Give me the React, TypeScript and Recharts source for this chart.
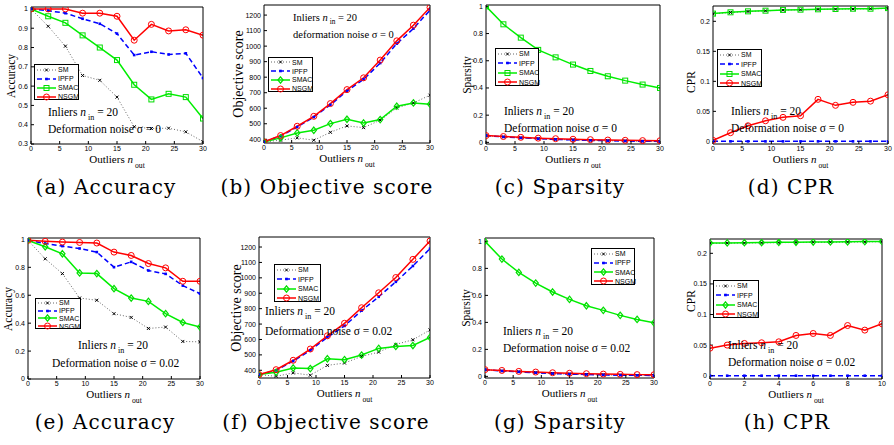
import React from 'react';
import { LineChart, Line, XAxis, YAxis } from 'recharts';

// x values
const nOut = [0, 3, 6, 9, 12, 15, 18, 21, 24, 27, 30];
const nOutShort = [0, 1, 2, 3, 4, 5, 6, 7, 8, 9, 10];

// tick labels
const ticks30 = [0, 5, 10, 15, 20, 25, 30];
const ticks10 = [0, 2, 4, 6, 8, 10];
const accTicksA = [0.3, 0.4, 0.5, 0.6, 0.7, 0.8, 0.9, 1];
const unitTicks = [0, 0.2, 0.4, 0.6, 0.8, 1];
const objTicks = [400, 500, 600, 700, 800, 900, 1000, 1100, 1200];
const cprTicks = [0, 0.05, 0.1, 0.15, 0.2];

const methods = ['SM', 'IPFP', 'SMAC', 'NSGM'];

// (a) accuracy, sigma = 0
const accA_SM = [1.0, 0.91, 0.807, 0.655, 0.63, 0.543, 0.389, 0.38, 0.382, 0.363, 0.312];
const accA_IPFP = [1.0, 0.991, 0.978, 0.949, 0.923, 0.872, 0.761, 0.778, 0.764, 0.77, 0.642];
const accA_SMAC = [1.0, 0.962, 0.928, 0.863, 0.8, 0.735, 0.607, 0.531, 0.56, 0.543, 0.432];
const accA_NSGM = [1.0, 1.0, 1.0, 0.978, 0.978, 0.962, 0.838, 0.92, 0.886, 0.892, 0.864];

// (b) objective score, sigma = 0
const objA_SM = [383, 394, 409, 394, 445, 486, 475, 523, 602, 634, 684];
const objA_IPFP = [383, 421, 479, 543, 622, 711, 786, 891, 1016, 1113, 1232];
const objA_SMAC = [383, 409, 441, 458, 501, 529, 505, 527, 613, 634, 626];
const objA_NSGM = [383, 424, 484, 548, 630, 720, 796, 910, 1034, 1135, 1249];

// (c) sparsity, sigma = 0
const spA_SM = [0.05, 0.04, 0.033, 0.027, 0.022, 0.018, 0.015, 0.012, 0.01, 0.008, 0.007];
const spA_IPFP = [0.05, 0.04, 0.033, 0.027, 0.022, 0.018, 0.015, 0.012, 0.01, 0.008, 0.007];
const spA_SMAC = [1.0, 0.868, 0.77, 0.68, 0.625, 0.572, 0.525, 0.486, 0.454, 0.425, 0.4];
const spA_NSGM = [0.05, 0.043, 0.037, 0.031, 0.027, 0.023, 0.02, 0.017, 0.015, 0.013, 0.012];

// (d) CPR, sigma = 0
const cprA_SM = [0.2125, 0.2148, 0.2163, 0.2175, 0.2186, 0.2192, 0.2198, 0.2203, 0.2206, 0.2209, 0.2213];
const cprA_IPFP = [0, 0, 0, 0, 0, 0, 0, 0, 0, 0, 0];
const cprA_SMAC = [0.2128, 0.215, 0.2166, 0.2177, 0.219, 0.2194, 0.22, 0.2205, 0.221, 0.221, 0.222];
const cprA_NSGM = [0.0017, 0.0144, 0.026, 0.0343, 0.04, 0.0427, 0.07, 0.06, 0.065, 0.067, 0.0776];

// (e) accuracy, sigma = 0.02
const accB_SM = [0.993, 0.861, 0.755, 0.58, 0.564, 0.468, 0.441, 0.362, 0.372, 0.269, 0.266];
const accB_IPFP = [0.993, 0.971, 0.952, 0.935, 0.909, 0.801, 0.839, 0.777, 0.753, 0.669, 0.611];
const accB_SMAC = [0.993, 0.947, 0.897, 0.76, 0.755, 0.647, 0.58, 0.556, 0.468, 0.405, 0.372];
const accB_NSGM = [0.993, 0.986, 0.981, 0.978, 0.974, 0.909, 0.885, 0.827, 0.796, 0.7, 0.7];

// (f) objective score, sigma = 0.02
const objB_SM = [372, 361, 383, 368, 432, 447, 490, 518, 568, 598, 662];
const objB_IPFP = [372, 400, 460, 529, 615, 688, 787, 877, 974, 1077, 1189];
const objB_SMAC = [372, 387, 415, 411, 475, 469, 499, 542, 555, 561, 613];
const objB_NSGM = [372, 404, 465, 538, 624, 705, 806, 903, 1002, 1120, 1239];

// (g) sparsity, sigma = 0.02
const spB_SM = [0.05, 0.04, 0.034, 0.027, 0.021, 0.017, 0.014, 0.011, 0.009, 0.008, 0.007];
const spB_IPFP = [0.05, 0.04, 0.034, 0.027, 0.021, 0.017, 0.014, 0.011, 0.009, 0.008, 0.007];
const spB_SMAC = [1.0, 0.869, 0.77, 0.691, 0.625, 0.57, 0.523, 0.489, 0.452, 0.422, 0.397];
const spB_NSGM = [0.05, 0.044, 0.037, 0.032, 0.027, 0.023, 0.02, 0.017, 0.015, 0.013, 0.012];

// (h) CPR, sigma = 0.02
const cprB_SM = [0.2163, 0.2166, 0.2169, 0.2172, 0.2174, 0.2177, 0.2179, 0.2181, 0.2184, 0.2187, 0.219];
const cprB_IPFP = [0, 0, 0, 0, 0, 0, 0, 0, 0, 0, 0];
const cprB_SMAC = [0.2168, 0.217, 0.2174, 0.2176, 0.2179, 0.2181, 0.2184, 0.2186, 0.2189, 0.2192, 0.2195];
const cprB_NSGM = [0.045, 0.05, 0.0527, 0.0538, 0.0554, 0.0658, 0.069, 0.0658, 0.082, 0.0745, 0.0848];

const serif = '"Liberation Serif", "Times New Roman", serif';
const sans = '"Liberation Sans", Arial, sans-serif';
const capFont = '"DejaVu Serif", serif';

const lineStyle: Record<string, any> = {
  SM: { stroke: '#666', strokeWidth: 1, strokeDasharray: '1 2', color: '#000' },
  IPFP: { stroke: '#0000ff', strokeWidth: 1.5, strokeDasharray: '5 3', color: '#0000ff' },
  SMAC: { stroke: '#00ee00', strokeWidth: 1.5, color: '#00dd00' },
  NSGM: { stroke: '#ff0000', strokeWidth: 1.5, color: '#ff0000' },
};

function drawMarker(kind: string, color: string, cx: number, cy: number, key?: any) {
  switch (kind) {
    case 'x':
      return (
        <g key={key}>
          <line x1={cx - 1.5} y1={cy - 1.5} x2={cx + 1.5} y2={cy + 1.5} stroke={color} strokeWidth={1} />
          <line x1={cx - 1.5} y1={cy + 1.5} x2={cx + 1.5} y2={cy - 1.5} stroke={color} strokeWidth={1} />
        </g>
      );
    case 'dot':
      return <rect key={key} x={cx - 1.3} y={cy - 1.3} width={2.6} height={2.6} fill={color} />;
    case 'square':
      return <rect key={key} x={cx - 2.5} y={cy - 2.5} width={5} height={5} fill="none" stroke={color} strokeWidth={1} />;
    case 'diamond':
      return (
        <path key={key} d={`M${cx},${cy - 3.2}L${cx + 2.6},${cy}L${cx},${cy + 3.2}L${cx - 2.6},${cy}Z`}
          fill="none" stroke={color} strokeWidth={1.2} />
      );
    default:
      return <circle key={key} cx={cx} cy={cy} r={3} fill="none" stroke={color} strokeWidth={1} />;
  }
}

function markerOf(name: string, smacShape: string) {
  if (name === 'SM') return 'x';
  if (name === 'IPFP') return 'dot';
  if (name === 'SMAC') return smacShape;
  return 'circle';
}

function Sub({ base, sub, size, drop = 0.45 }: { base: string; sub: string; size: number; drop?: number }) {
  return (
    <>
      <span style={{ fontStyle: 'italic' }}>{base}</span>
      <span style={{ fontSize: size * 0.7, position: 'relative', top: size * drop, marginLeft: 2 }}>{sub}</span>
    </>
  );
}

function LegendBox({ x, y, w, h, smacShape }: any) {
  const rh = h / 4;
  return (
    <div style={{ position: 'absolute', left: x, top: y, width: w, height: h, border: '1px solid #000', background: '#fff', boxSizing: 'border-box' }}>
      {methods.map((m, i) => {
        const st = lineStyle[m];
        return (
          <div key={m} style={{ position: 'absolute', left: 0, top: i * rh, height: rh, display: 'flex', alignItems: 'center' }}>
            <svg width={21} height={8} style={{ marginLeft: 1 }}>
              <line x1={1} y1={4} x2={20} y2={4} stroke={st.stroke} strokeWidth={st.strokeWidth} strokeDasharray={st.strokeDasharray} />
              {drawMarker(markerOf(m, smacShape), st.color, 10.5, 4)}
            </svg>
            <span style={{ fontFamily: sans, fontSize: 7, marginLeft: 1, lineHeight: 1 }}>{m}</span>
          </div>
        );
      })}
    </div>
  );
}

function Panel(p: any) {
  const [L, T, R, B] = p.box;
  const rows = p.xs.map((x: number, i: number) => ({
    x, SM: p.series[0][i], IPFP: p.series[1][i], SMAC: p.series[2][i], NSGM: p.series[3][i],
  }));
  const xDom = [p.xTicks[0], p.xTicks[p.xTicks.length - 1]];
  const tickFont = { fontSize: 7, fill: '#000', fontFamily: sans };
  const cx = (L + R) / 2;
  const capY = T < 100 ? 187 : 422;
  return (
    <>
      <div style={{ position: 'absolute', left: L - 40, top: T - 5 }}>
        <LineChart width={R - L + 45} height={B - T + 25} data={rows} margin={{ top: 4, right: 4, left: 0, bottom: 0 }}>
          <XAxis dataKey="x" type="number" domain={xDom} ticks={p.xTicks} allowDataOverflow
            stroke="#000" tickSize={-3} tickMargin={5} height={20} tick={tickFont} interval={0} />
          <XAxis xAxisId="top" orientation="top" type="number" domain={xDom} ticks={p.xTicks} allowDataOverflow
            stroke="#000" tickSize={-3} height={1} tick={false} />
          <YAxis type="number" domain={p.yDomain} ticks={p.yTicks} allowDataOverflow stroke="#000"
            tickSize={-3} tickMargin={6} width={40} tick={tickFont} interval={0} />
          <YAxis yAxisId="right" orientation="right" type="number" domain={p.yDomain} ticks={p.yTicks} allowDataOverflow
            stroke="#000" tickSize={-3} width={1} tick={false} />
          {methods.map((m) => {
            const st = lineStyle[m];
            const kind = markerOf(m, p.smacShape);
            return (
              <Line key={m} dataKey={m} type="linear" isAnimationActive={false}
                stroke={st.stroke} strokeWidth={st.strokeWidth} strokeDasharray={st.strokeDasharray}
                dot={(d: any) => drawMarker(kind, st.color, d.cx, d.cy, `${m}-${d.index}`)} activeDot={false} />
            );
          })}
        </LineChart>
      </div>
      <div style={{ position: 'absolute', left: p.yLabelX, top: p.yLabelY ?? (T + B) / 2, transform: 'translate(-50%, -50%) rotate(-90deg)',
        fontFamily: serif, fontSize: p.yLabelSize, whiteSpace: 'nowrap', lineHeight: 1 }}>{p.yLabel}</div>
      <div style={{ position: 'absolute', left: cx, top: B + 10, transform: 'translateX(-50%)', fontFamily: serif, fontSize: 11,
        whiteSpace: 'nowrap', lineHeight: 1 }}>
        Outliers <Sub base="n" sub="out" size={11} />
      </div>
      <LegendBox {...p.legend} smacShape={p.smacShape} />
      <div style={{ position: 'absolute', left: p.note.x1, top: p.note.y1 - p.note.size / 2, fontFamily: serif, fontSize: p.note.size,
        whiteSpace: 'nowrap', lineHeight: 1 }}>
        Inliers <Sub base="n" sub="in" size={p.note.size} drop={0.32} /> = 20
      </div>
      <div style={{ position: 'absolute', left: p.note.x2, top: p.note.y2 - p.note.size / 2, fontFamily: serif, fontSize: p.note.size,
        whiteSpace: 'nowrap', lineHeight: 1 }}>
        {p.note.text}
      </div>
      <div style={{ position: 'absolute', left: p.capX, top: capY - 10, transform: 'translateX(-50%)', fontFamily: capFont,
        fontSize: 20, letterSpacing: 1.1, whiteSpace: 'nowrap', lineHeight: 1 }}>
        {p.caption}
      </div>
    </>
  );
}

const panels = [
  { box: [31, 7, 203, 144], xs: nOut, xTicks: ticks30, yDomain: [0.3, 1.01], yTicks: accTicksA,
    series: [accA_SM, accA_IPFP, accA_SMAC, accA_NSGM], smacShape: 'square',
    yLabel: 'Accuracy', yLabelX: 12, yLabelSize: 11.5,
    legend: { x: 34, y: 64, w: 45, h: 36 },
    note: { x1: 48, y1: 113, x2: 48, y2: 130, size: 11.5, text: 'Deformation noise σ = 0' },
    caption: '(a) Accuracy', capX: 106 },
  { box: [264, 5, 430, 143], xs: nOut, xTicks: ticks30, yDomain: [376, 1265], yTicks: objTicks,
    series: [objA_SM, objA_IPFP, objA_SMAC, objA_NSGM], smacShape: 'diamond',
    yLabel: 'Objective score', yLabelX: 239, yLabelSize: 14,
    legend: { x: 268, y: 57, w: 45, h: 35 },
    note: { x1: 293, y1: 18, x2: 293, y2: 35, size: 10.5, text: 'deformation noise σ = 0' },
    caption: '(b) Objective score', capX: 327 },
  { box: [486, 5, 660, 144], xs: nOut, xTicks: ticks30, yDomain: [-0.012, 1.01], yTicks: unitTicks,
    series: [spA_SM, spA_IPFP, spA_SMAC, spA_NSGM], smacShape: 'square',
    yLabel: 'Sparsity', yLabelX: 468, yLabelSize: 11.5,
    legend: { x: 495, y: 48, w: 44, h: 38 },
    note: { x1: 504, y1: 112, x2: 504, y2: 129, size: 11.5, text: 'Deformation noise σ = 0' },
    caption: '(c) Sparsity', capX: 560 },
  { box: [713, 6, 888, 144], xs: nOut, xTicks: ticks30, yDomain: [-0.0044, 0.2255], yTicks: cprTicks,
    series: [cprA_SM, cprA_IPFP, cprA_SMAC, cprA_NSGM], smacShape: 'square',
    yLabel: 'CPR', yLabelX: 692, yLabelY: 82, yLabelSize: 11.5,
    legend: { x: 717, y: 49, w: 45, h: 38 },
    note: { x1: 731, y1: 112, x2: 731, y2: 129, size: 11.5, text: 'Deformation noise σ = 0' },
    caption: '(d) CPR', capX: 791 },
  { box: [28, 238, 200, 379], xs: nOut, xTicks: ticks30, yDomain: [0, 1.01], yTicks: unitTicks,
    series: [accB_SM, accB_IPFP, accB_SMAC, accB_NSGM], smacShape: 'diamond',
    yLabel: 'Accuracy', yLabelX: 9, yLabelSize: 11.5,
    legend: { x: 35, y: 298, w: 46, h: 31 },
    note: { x1: 78, y1: 346, x2: 52, y2: 364, size: 11.5, text: 'Deformation noise σ = 0.02' },
    caption: '(e) Accuracy', capX: 105 },
  { box: [259, 237, 430, 378], xs: nOut, xTicks: ticks30, yDomain: [350, 1265], yTicks: objTicks,
    series: [objB_SM, objB_IPFP, objB_SMAC, objB_NSGM], smacShape: 'diamond',
    yLabel: 'Objective score', yLabelX: 237, yLabelSize: 14,
    legend: { x: 274, y: 264, w: 47, h: 38 },
    note: { x1: 265, y1: 312, x2: 265, y2: 332, size: 11.5, text: 'Deformation noise σ = 0.02' },
    caption: '(f) Objective score', capX: 326 },
  { box: [485, 238, 654, 378], xs: nOut, xTicks: ticks30, yDomain: [-0.012, 1.025], yTicks: unitTicks,
    series: [spB_SM, spB_IPFP, spB_SMAC, spB_NSGM], smacShape: 'diamond',
    yLabel: 'Sparsity', yLabelX: 467, yLabelSize: 11.5,
    legend: { x: 591, y: 248, w: 44, h: 37 },
    note: { x1: 503, y1: 332, x2: 503, y2: 349, size: 11.5, text: 'Deformation noise σ = 0.02' },
    caption: '(g) Sparsity', capX: 560 },
  { box: [710, 239, 882, 379], xs: nOutShort, xTicks: ticks10, yDomain: [-0.0054, 0.2234], yTicks: cprTicks,
    series: [cprB_SM, cprB_IPFP, cprB_SMAC, cprB_NSGM], smacShape: 'diamond',
    yLabel: 'CPR', yLabelX: 692, yLabelY: 301, yLabelSize: 11.5,
    legend: { x: 713, y: 280, w: 46, h: 38 },
    note: { x1: 728, y1: 346, x2: 728, y2: 363, size: 11.5, text: 'Deformation noise σ = 0.02' },
    caption: '(h) CPR', capX: 787 },
];

export default function App() {
  return (
    <div style={{ position: 'absolute', left: 0, top: 0, width: 894, height: 445, background: '#fff', overflow: 'hidden' }}>
      {panels.map((p, i) => <Panel key={i} {...p} />)}
    </div>
  );
}
